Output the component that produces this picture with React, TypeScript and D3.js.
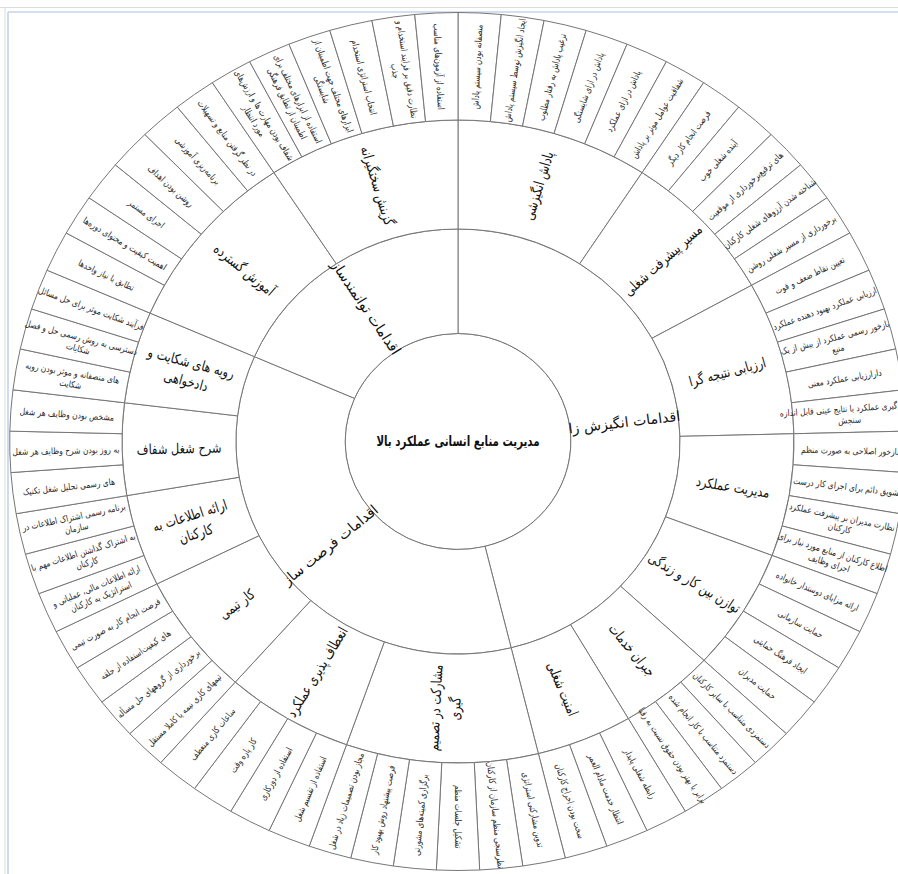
import React, { useEffect, useRef } from 'react';
import * as d3 from 'd3';

// chart values (every leaf counts 1)
const rootLabel = 'مدیریت منابع انسانی عملکرد بالا';
const groups = ['اقدامات انگیزش زا', 'اقدامات فرصت ساز', 'اقدامات توانمندساز'];

const motivSubs = ['پاداش انگیزشی', 'مسیر پیشرفت شغلی', 'ارزیابی نتیجه گرا', 'مدیریت عملکرد', 'توازن بین کار و زندگی', 'جبران خدمات', 'امنیت شغلی'];
const oppSubs = ['مشارکت در تصمیم\nگیری', 'انعطاف پذیری عملکرد', 'کار تیمی', 'ارائه اطلاعات به\nکارکنان', 'شرح شغل شفاف', 'رویه های شکایت و\nدادخواهی'];
const enableSubs = ['آموزش گسترده', 'گزینش سختگیرانه'];

const rewardItems = ['منصفانه بودن سیستم پاداش', 'ایجاد انگیزش توسط سیستم پاداش', 'ترغیب پاداش به رفتار مطلوب', 'پاداش در ازای شایستگی', 'پاداش در ازای عملکرد', 'شفافیت عوامل موثر بر پاداش'];
const careerItems = ['فرصت انجام کار دیگر', 'آینده شغلی خوب', 'های ترفیع‌برخورداری از موقعیت', 'شناخته شدن آرزوهای شغلی کارکنان', 'برخورداری از مسیر شغلی روشن'];
const appraisalItems = ['تعیین نقاط ضعف و قوت', 'ارزیابی عملکرد بهبود دهنده عملکرد', 'بازخور رسمی عملکرد از بیش از یک\nمنبع', 'دارارزیابی عملکرد معنی', 'اندازه گیری عملکرد با نتایج عینی قابل اندازه\nسنجش'];
const perfItems = ['بازخور اصلاحی به صورت منظم', 'تشویق دائم برای اجرای کار درست', 'نظارت مدیران بر پیشرفت عملکرد\nکارکنان', 'اطلاع کارکنان از منابع مورد نیاز برای\nاجرای وظایف'];
const balanceItems = ['ارائه مزایای دوستدار خانواده', 'حمایت سازمانی', 'ایجاد فرهنگ حمایتی', 'حمایت مدیران'];
const payItems = ['دستمزدی متناسب با سایر کارکنان', 'دستمزد متناسب با کار انجام شده', 'برابر یا بهتر بودن حقوق نسبت به رقبا'];
const securityItems = ['رابطه شغلی پایدار', 'انتظار خدمت مادام العمر', 'سخت بودن اخراج کارکنان'];

const decisionItems = ['تدوین مشارکتی استراتژی', 'نظرسنجی منظم سازمان از کارکنان', 'تشکیل جلسات منظم', 'برگزاری کمیته‌های مشورتی', 'فرصت پیشنهاد روش بهبود کار', 'مجاز بودن تصمیمات زیاد در شغل'];
const flexItems = ['استفاده از تقسیم شغل', 'استفاده از دورکاری', 'کار پاره وقت', 'ساعات کاری منعطف'];
const teamItems = ['تیمهای کاری نیمه یا کاملا مستقل', 'برخورداری از گروههای حل مسأله', 'های کیفیت‌استفاده از حلقه', 'فرصت انجام کار به صورت تیمی'];
const infoItems = ['ارائه اطلاعات مالی، عملیاتی و\nاستراتژیک به کارکنان', 'به اشتراک گذاشتن اطلاعات مهم با\nکارکنان', 'برنامه رسمی اشتراک اطلاعات در\nسازمان'];
const jobDescItems = ['های رسمی تحلیل شغل تکنیک', 'به روز بودن شرح وظایف هر شغل', 'مشخص بودن وظایف هر شغل'];
const grievanceItems = ['های منصفانه و موثر بودن رویه\nشکایت', 'دسترسی به روش رسمی حل و فصل\nشکایات', 'فرآیند شکایت موثر برای حل مسائل'];

const trainingItems = ['تطابق با نیاز واحدها', 'اهمیت کیفیت و محتوای دوره‌ها', 'اجرای مستمر', 'روشن بودن اهداف', 'برنامه‌ریزی آموزشی', 'در نظر گرفتن منابع و تسهیلات'];
const selectionItems = ['شفاف بودن مهارت ها و ارزش‌های\nمورد انتظار', 'استفاده از ابزارهای مختلف برای\nاطمینان از تطابق فرهنگی', 'ابزارهای مختلف جهت اطمینان از\nشایستگی', 'انتخاب استراتژی استخدام', 'نظارت دقیق بر فرایند استخدام و\nجذب', 'استفاده از آزمون‌های مناسب'];

const leafWeight = 1;

type Node = { name: string; children?: Node[]; value?: number };

const branch = (subs: string[], items: string[][]): Node[] =>
  subs.map((s, i) => ({ name: s, children: items[i].map(n => ({ name: n, value: leafWeight })) }));

const tree: Node = {
  name: rootLabel,
  children: [
    { name: groups[0], children: branch(motivSubs, [rewardItems, careerItems, appraisalItems, perfItems, balanceItems, payItems, securityItems]) },
    { name: groups[1], children: branch(oppSubs, [decisionItems, flexItems, teamItems, infoItems, jobDescItems, grievanceItems]) },
    { name: groups[2], children: branch(enableSubs, [trainingItems, selectionItems]) },
  ],
};

const W = 898;
const H = 874;

const App = () => {
  const ref = useRef<SVGSVGElement>(null);

  useEffect(() => {
    const svg = d3.select(ref.current);
    svg.selectAll('*').remove();

    const cx = 458, cy = 441.5, sx = 1.045;
    const font = '"DejaVu Sans", sans-serif';

    svg.append('rect').attr('width', W).attr('height', H).attr('fill', '#fff');
    // page frame
    svg.append('line').attr('x1', 0).attr('x2', W).attr('y1', 7.5).attr('y2', 7.5).attr('stroke', '#dcdcdc');
    svg.append('line').attr('x1', 5).attr('x2', 5).attr('y1', 7).attr('y2', H).attr('stroke', '#dcdcdc');
    svg.append('line').attr('x1', 8).attr('x2', W).attr('y1', 12).attr('y2', 12).attr('stroke', '#c3d3ec').attr('stroke-width', 1.6);
    svg.append('line').attr('x1', 8).attr('x2', 8).attr('y1', 12).attr('y2', H).attr('stroke', '#c3d3ec').attr('stroke-width', 1.6);

    const root = d3.hierarchy<Node>(tree).sum(d => (d.children ? 0 : d.value || 0));
    const part = d3.partition<Node>().size([2 * Math.PI, 4])(root);

    const r = d3.scaleLinear().domain([0, 1, 2, 3, 4]).range([0, 108, 212.5, 321.5, 429]);

    const arc = d3.arc<d3.HierarchyRectangularNode<Node>>()
      .startAngle(d => d.x0)
      .endAngle(d => d.x1)
      .innerRadius(d => r(d.y0))
      .outerRadius(d => r(d.y1));

    const g = svg.append('g').attr('transform', `translate(${cx},${cy}) scale(${sx},1)`);

    g.append('g')
      .selectAll('path')
      .data(part.descendants())
      .join('path')
      .attr('d', d => arc(d) as string)
      .attr('fill', '#fff')
      .attr('stroke', '#767676')
      .attr('stroke-width', 1)
      .attr('vector-effect', 'non-scaling-stroke');

    // DejaVu is wider than the source font, so squeeze along the baseline
    const sizes = [14, 14, 14, 9];
    const squeeze = [0.7, 0.97, 0.78, 0.8];
    const lineH = [17, 17, 19, 11.5];

    const labels = g.append('g')
      .selectAll('text')
      .data(part.descendants())
      .join('text')
      .attr('transform', d => {
        const k = squeeze[d.depth];
        if (d.depth === 0) return `scale(${k},1)`;
        const a = (d.x0 + d.x1) / 2;
        const rm = (r(d.y0) + r(d.y1)) / 2;
        const deg = (a * 180) / Math.PI;
        const rot = deg <= 180.001 ? deg - 90 : deg + 90;
        return `translate(${rm * Math.sin(a)},${-rm * Math.cos(a)}) rotate(${rot}) scale(${k},1)`;
      })
      .attr('text-anchor', 'middle')
      .attr('dominant-baseline', 'central')
      .attr('font-family', font)
      .attr('font-size', d => sizes[d.depth])
      .attr('font-weight', d => (d.depth === 0 ? 'bold' : 'normal'))
      .attr('fill', d => (d.depth === 3 ? '#2a2a2a' : '#111'));

    labels.each(function (d) {
      const lines = d.data.name.split('\n');
      const lh = lineH[d.depth];
      lines.forEach((ln, i) => {
        d3.select(this)
          .append('tspan')
          .attr('x', 0)
          .attr('y', (i - (lines.length - 1) / 2) * lh)
          .text(ln);
      });
    });
  }, []);

  return (
    <svg ref={ref} width={W} height={H} style={{ position: 'absolute', left: 0, top: 0 }} />
  );
};

export default App;
